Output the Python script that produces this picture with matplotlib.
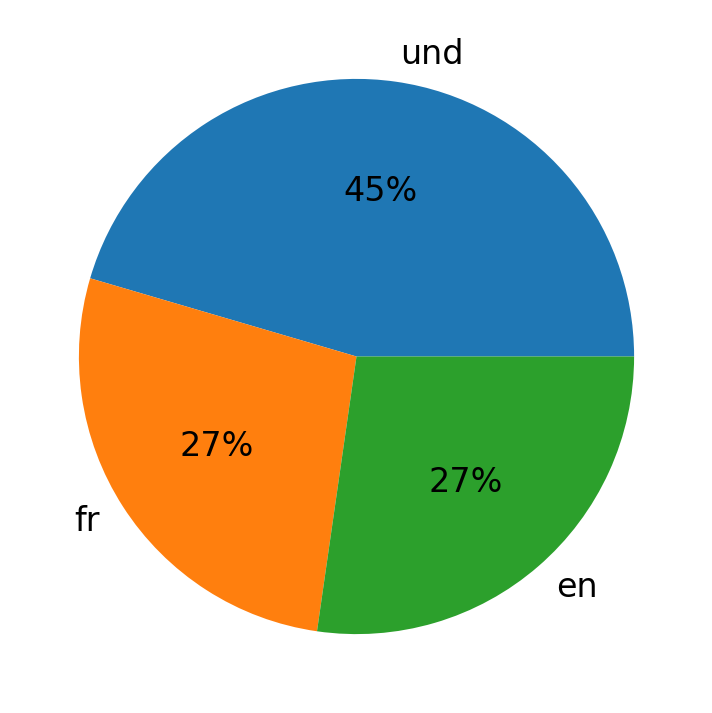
import matplotlib
matplotlib.use('Agg')
import matplotlib.pyplot as plt

labels = ['und', 'fr', 'en']
counts = [5, 3, 3]

fig = plt.figure(figsize=(7.12, 7.13), dpi=100)
ax = fig.add_axes([9.5 / 712, 9.5 / 713, 694 / 712, 694 / 713])
ax.pie(counts, labels=labels, autopct='%1.0f%%', textprops={'fontsize': 24})
plt.savefig('out.png')
